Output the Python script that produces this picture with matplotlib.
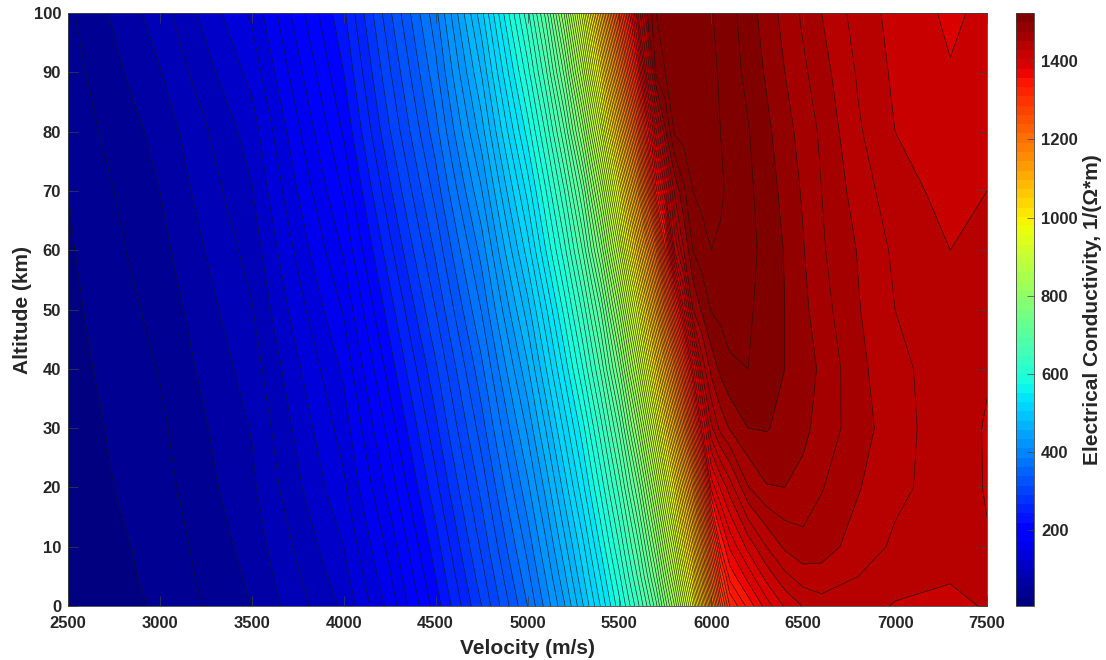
from __future__ import annotations

import matplotlib

matplotlib.use("Agg")

import matplotlib.pyplot as plt
import numpy as np
from matplotlib.cm import ScalarMappable
from matplotlib.colors import Normalize


WIDTH_PX = 1106
HEIGHT_PX = 660
DPI = 100

velocity = [
    2500, 3000, 3500, 4000, 4250, 4500, 4750, 5000, 5100, 5200, 5300, 5400, 5500, 5600,
    5650, 5700, 5750, 5800, 5850, 5900, 5950, 6000, 6050, 6100,
    6200, 6300, 6400, 6500, 6600, 6800, 7000, 7300, 7500,
]
altitude = [0, 5, 10, 20, 30, 40, 50, 60, 70, 80, 90, 100]

sigma_0 = [12, 27, 55, 103, 150, 212, 280, 355, 390, 428, 473, 522, 575, 635,
           670, 710, 765, 820, 887, 955, 1050, 1150, 1240, 1300,
           1335, 1367, 1392, 1406, 1413, 1411, 1404, 1399, 1407]
sigma_5 = [13, 29, 58, 109, 158, 220, 289, 365, 401, 441, 487, 537, 592, 657,
           697, 742, 800, 859, 930, 1006, 1100, 1200, 1285, 1335,
           1366, 1396, 1416, 1428, 1430, 1420, 1410, 1407, 1407]
sigma_10 = [14, 30, 61, 115, 165, 228, 298, 375, 412, 454, 500, 553, 610, 678,
            723, 773, 835, 898, 975, 1054, 1150, 1250, 1330, 1362,
            1395, 1420, 1438, 1445, 1441, 1429, 1417, 1409, 1406]
sigma_20 = [16, 34, 67, 127, 181, 245, 315, 396, 435, 481, 530, 585, 647, 728,
            782, 842, 910, 982, 1065, 1153, 1258, 1365, 1392, 1412,
            1449, 1464, 1465, 1460, 1451, 1436, 1424, 1412, 1404]
sigma_30 = [17, 37, 71, 137, 196, 261, 333, 418, 461, 509, 559, 619, 690, 791,
            853, 920, 998, 1081, 1172, 1270, 1370, 1432, 1455, 1466,
            1480, 1481, 1476, 1469, 1459, 1442, 1426, 1411, 1404]
sigma_40 = [19, 41, 77, 148, 212, 277, 351, 442, 489, 539, 594, 659, 745, 863,
            933, 1010, 1093, 1180, 1272, 1368, 1440, 1470, 1484, 1493,
            1495, 1489, 1480, 1473, 1462, 1439, 1424, 1412, 1406]
sigma_50 = [21, 45, 84, 162, 228, 295, 371, 468, 517, 570, 629, 702, 809, 941,
            1022, 1108, 1203, 1300, 1390, 1465, 1483, 1496, 1499, 1500,
            1497, 1490, 1480, 1469, 1456, 1436, 1420, 1408, 1408]
sigma_60 = [23, 50, 91, 177, 245, 313, 391, 497, 550, 604, 671, 763, 885, 1037,
            1120, 1208, 1315, 1420, 1465, 1495, 1503, 1510, 1508, 1505,
            1499, 1491, 1479, 1466, 1452, 1434, 1417, 1405, 1408]
sigma_70 = [25, 55, 99, 192, 262, 331, 414, 525, 579, 639, 716, 828, 965, 1135,
            1235, 1340, 1405, 1468, 1492, 1510, 1515, 1518, 1512, 1507,
            1498, 1488, 1475, 1463, 1450, 1428, 1411, 1400, 1405]
sigma_80 = [30, 60, 107, 207, 279, 349, 438, 556, 613, 683, 780, 906, 1064, 1236,
            1335, 1418, 1478, 1512, 1516, 1519, 1518, 1516, 1510, 1505,
            1496, 1484, 1470, 1460, 1447, 1422, 1405, 1396, 1401]
sigma_90 = [33, 69, 120, 220, 293, 365, 461, 588, 651, 734, 850, 992, 1163, 1335,
            1430, 1500, 1510, 1516, 1519, 1521, 1518, 1514, 1508, 1502,
            1491, 1478, 1465, 1453, 1441, 1418, 1402, 1391, 1397]
sigma_100 = [37, 78, 133, 232, 307, 380, 485, 620, 691, 792, 921, 1082, 1255, 1420,
             1480, 1510, 1515, 1518, 1520, 1522, 1517, 1511, 1505, 1500,
             1487, 1473, 1460, 1447, 1435, 1413, 1400, 1387, 1394]

contour_levels = np.arange(25, 1511, 15)
colorbar_ticks = [200, 400, 600, 800, 1000, 1200, 1400]
x_ticks = np.arange(2500, 7501, 500)
y_ticks = np.arange(0, 101, 10)

plt.rcParams.update(
    {
        "font.family": ["Liberation Sans", "DejaVu Sans"],
        "font.weight": "bold",
        "text.color": "#262626",
        "axes.labelcolor": "#262626",
        "xtick.color": "#404040",
        "ytick.color": "#404040",
        "xtick.labelcolor": "#262626",
        "ytick.labelcolor": "#262626",
    }
)

figure = plt.figure(figsize=(WIDTH_PX / DPI, HEIGHT_PX / DPI), dpi=DPI, facecolor="white")
axis = figure.add_axes(
    [68 / WIDTH_PX, 1 - 606 / HEIGHT_PX, (987 - 68) / WIDTH_PX, (606 - 13) / HEIGHT_PX]
)
colorbar_axis = figure.add_axes(
    [1016 / WIDTH_PX, 1 - 606 / HEIGHT_PX, 18 / WIDTH_PX, (606 - 13) / HEIGHT_PX]
)

colormap = plt.get_cmap("jet", 64)
sigma = np.array(
    [sigma_0, sigma_5, sigma_10, sigma_20, sigma_30, sigma_40, sigma_50, sigma_60,
     sigma_70, sigma_80, sigma_90, sigma_100],
    dtype=float,
)

# bands come out a little brighter than the reference on the full scale
fill_norm = Normalize(vmin=5, vmax=1505)
axis.contourf(velocity, altitude, sigma, levels=contour_levels, cmap=colormap, norm=fill_norm, extend="both")
axis.contour(velocity, altitude, sigma, levels=contour_levels, colors="#141414", linewidths=0.42)

axis.set_xlim(2500, 7500)
axis.set_ylim(0, 100)
axis.set_xticks(x_ticks)
axis.set_yticks(y_ticks)
axis.tick_params(direction="in", length=7, width=0.5, labelsize=12, top=True, right=True)
axis.tick_params(axis="x", pad=7)
axis.tick_params(axis="y", pad=5)
axis.set_xlabel("Velocity (m/s)", fontsize=15, fontweight="bold", labelpad=6)
axis.set_ylabel("Altitude (km)", fontsize=15, fontweight="bold", labelpad=1)
for spine in axis.spines.values():
    spine.set_color("#404040")
    spine.set_linewidth(0.6)

colorbar = figure.colorbar(ScalarMappable(norm=Normalize(vmin=5, vmax=1524), cmap=colormap), cax=colorbar_axis)
colorbar.set_ticks(colorbar_ticks)
colorbar.ax.tick_params(direction="in", length=5, width=0.5, labelsize=12, pad=5)
colorbar.set_label("Electrical Conductivity, 1/(Ω*m)", fontsize=15, fontweight="bold", labelpad=4)
colorbar.outline.set_edgecolor("#404040")
colorbar.outline.set_linewidth(0.6)

figure.savefig("out.png", dpi=DPI, facecolor="white")
plt.close(figure)
